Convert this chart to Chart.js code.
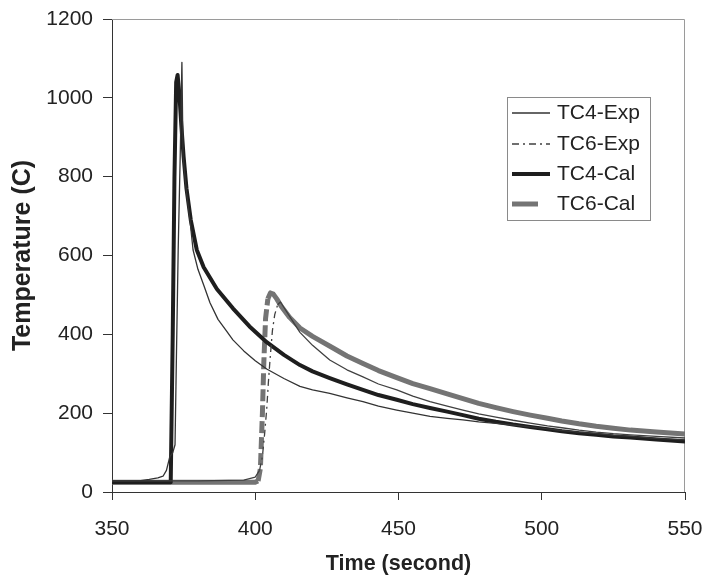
<!DOCTYPE html>
<html>
<head>
<meta charset="utf-8">
<script src="https://cdn.jsdelivr.net/npm/chart.js@4/dist/chart.umd.min.js"></script>
<style>
  html, body { margin: 0; padding: 0; background: #ffffff; }
  #wrap { width: 706px; height: 583px; position: relative; }
</style>
</head>
<body>
<div id="wrap"><canvas id="c" width="706" height="583"></canvas></div>
<script>
// ---- data ----
const seriesLabels = ['TC4-Exp', 'TC6-Exp', 'TC4-Cal', 'TC6-Cal'];

const tc4ExpTime = [350, 355, 360, 363, 366, 367.8, 369, 370.2, 371.2, 372, 372.5, 373.1, 373.8, 374.4, 374.8, 376, 377.2, 378.3, 380, 382, 384.2, 387, 390, 392.2, 396, 400, 404, 410, 415.6, 420, 426, 432, 437.6, 443, 449.4, 455, 461, 467, 472.5, 478, 484, 490, 496, 502, 507, 513, 519, 525, 531, 540, 550];
const tc4ExpTemp = [28, 28, 29, 32, 36, 40, 55, 90, 100, 120, 350, 614, 850, 1090, 850, 760, 690, 614, 565, 525, 480, 438, 408, 386, 358, 333, 312, 288, 268, 259, 250, 239, 229, 218, 208, 200, 192, 187, 183, 178, 174, 170, 165, 160, 156, 152, 148, 144, 141, 136, 132];

const tc6ExpTime = [350, 380, 396, 400, 401.5, 402.5, 403.3, 404, 404.6, 405.2, 406, 406.8, 407.8, 408.8, 410, 412.5, 415.6, 420, 426, 432, 437.6, 443, 449.4, 455, 461, 467, 472.5, 478, 484, 490, 496, 502, 507, 513, 519, 525, 531, 540, 550];
const tc6ExpTemp = [28, 28, 30, 38, 55, 90, 150, 210, 280, 340, 410, 450, 475, 482, 468, 440, 405, 372, 335, 310, 292, 274, 259, 243, 229, 218, 208, 198, 190, 182, 175, 168, 163, 157, 152, 148, 145, 141, 137];

const tc4CalTime = [350, 360, 370.5, 371.2, 371.8, 372.4, 372.9, 373.5, 374.2, 375, 376, 377.5, 379.6, 382, 386.6, 392.2, 398, 404, 410, 415.6, 420, 426, 432, 437.6, 443, 449.4, 455, 461, 467, 472.5, 478, 484, 490, 496, 502, 507, 513, 519, 525, 531, 540, 550];
const tc4CalTemp = [25, 25, 25, 400, 800, 1040, 1058, 1010, 930, 850, 770, 690, 614, 570, 515, 466, 420, 380, 348, 322, 306, 289, 273, 259, 246, 234, 223, 213, 204, 195, 186, 178, 171, 165, 159, 154, 149, 145, 141, 138, 133, 128];

const tc6CalTime = [350, 380, 400, 401, 401.8, 402.5, 403, 403.6, 404.4, 405.3, 406.3, 407.5, 409, 412, 415.6, 420, 427, 432, 437.6, 443, 449.4, 455, 461, 467, 472.5, 478, 484, 490, 496, 502, 507, 513, 519, 525, 531, 540, 550];
const tc6CalTemp = [25, 25, 25, 28, 60, 200, 330, 440, 490, 505, 502, 490, 472, 443, 416, 395, 366, 345, 326, 308, 290, 275, 262, 249, 237, 225, 214, 204, 195, 187, 180, 173, 167, 162, 157, 152, 147];

const xTicks = [350, 400, 450, 500, 550];
const yTicks = [0, 200, 400, 600, 800, 1000, 1200];

// ---- build ----
const pts = (ts, vs) => ts.map((t, i) => ({ x: t, y: vs[i] }));

// steep (long) segments show the dash pattern, short ones look solid
function steepDash(dash) {
  return ctx => {
    const dx = Math.abs(ctx.p1.x - ctx.p0.x), dy = Math.abs(ctx.p1.y - ctx.p0.y);
    return (dy > 3 * dx && dy > 8) ? dash : undefined;
  };
}

const FONT = '"Liberation Sans", Arial, Helvetica, sans-serif';
const TXT = '#222222';

const datasets = [
  { label: seriesLabels[0], data: pts(tc4ExpTime, tc4ExpTemp), borderColor: '#333333', borderWidth: 1.3, legendDash: [] },
  { label: seriesLabels[1], data: pts(tc6ExpTime, tc6ExpTemp), borderColor: '#404040', borderWidth: 1.3, legendDash: [7, 4, 2, 4],
    segment: { borderDash: steepDash([7, 4, 2, 4]) } },
  { label: seriesLabels[2], data: pts(tc4CalTime, tc4CalTemp), borderColor: '#1e1e1e', borderWidth: 4, legendDash: [] },
  { label: seriesLabels[3], data: pts(tc6CalTime, tc6CalTemp), borderColor: '#747474', borderWidth: 5, legendDash: [26, 20],
    segment: { borderDash: steepDash([12, 4]) } }
].map(d => Object.assign({ pointRadius: 0, pointHoverRadius: 0, tension: 0, fill: false, borderDash: [], borderCapStyle: 'butt', borderJoinStyle: 'round' }, d));

const framePlugin = {
  id: 'frame',
  beforeDatasetsDraw(chart) {
    const { ctx, chartArea: a } = chart;
    ctx.save();
    ctx.strokeStyle = '#9a9a9a';
    ctx.lineWidth = 1;
    ctx.beginPath();
    ctx.moveTo(a.left, a.top + 0.5);
    ctx.lineTo(a.right - 0.5, a.top + 0.5);
    ctx.lineTo(a.right - 0.5, a.bottom);
    ctx.stroke();
    ctx.restore();
  }
};

const boxLegend = {
  id: 'boxLegend',
  afterDraw(chart) {
    const ctx = chart.ctx;
    const a = chart.chartArea;
    const bx = a.right - 178, by = a.top + 78, bw = 143, bh = 123;
    ctx.save();
    ctx.fillStyle = '#ffffff';
    ctx.fillRect(bx, by, bw, bh);
    ctx.strokeStyle = '#8a8a8a';
    ctx.lineWidth = 1;
    ctx.strokeRect(bx + 0.5, by + 0.5, bw, bh);
    const rowY = [16, 47, 77, 107];
    chart.data.datasets.forEach((ds, i) => {
      const y = by + rowY[i];
      ctx.beginPath();
      ctx.setLineDash(ds.legendDash || []);
      ctx.lineWidth = ds.borderWidth;
      ctx.strokeStyle = ds.borderColor;
      ctx.lineCap = 'butt';
      ctx.moveTo(bx + 5, y);
      ctx.lineTo(bx + 43, y);
      ctx.stroke();
      ctx.setLineDash([]);
      ctx.fillStyle = TXT;
      ctx.font = '21px ' + FONT;
      ctx.textBaseline = 'middle';
      ctx.textAlign = 'left';
      ctx.fillText(ds.label, bx + 50, y);
    });
    ctx.restore();
  }
};

new Chart(document.getElementById('c'), {
  type: 'line',
  data: { datasets },
  options: {
    responsive: false,
    animation: false,
    devicePixelRatio: 1,
    layout: { padding: { left: 0, top: 19, right: 21, bottom: 0 } },
    plugins: {
      legend: { display: false },
      tooltip: { enabled: false }
    },
    scales: {
      x: {
        type: 'linear',
        min: xTicks[0], max: xTicks[xTicks.length - 1],
        afterBuildTicks: s => { s.ticks = xTicks.map(v => ({ value: v })); },
        afterFit: s => { s.height = 91; s.paddingLeft = 0; s.paddingRight = 0; },
        grid: { drawOnChartArea: false, drawTicks: true, tickLength: 8, color: '#333333' },
        border: { display: true, color: '#333333', width: 1 },
        ticks: { color: TXT, font: { family: FONT, size: 21 }, padding: 17, maxRotation: 0, callback: v => String(v) },
        title: { display: true, text: 'Time (second)', color: TXT, font: { family: FONT, size: 21.5, weight: 'bold' }, padding: { top: 0, bottom: 6 } }
      },
      y: {
        type: 'linear',
        min: yTicks[0], max: yTicks[yTicks.length - 1],
        afterBuildTicks: s => { s.ticks = yTicks.map(v => ({ value: v })); },
        afterFit: s => { s.width = 112; s.paddingTop = 0; s.paddingBottom = 0; },
        grid: { drawOnChartArea: false, drawTicks: true, tickLength: 9, color: '#333333' },
        border: { display: true, color: '#333333', width: 1 },
        ticks: { color: TXT, font: { family: FONT, size: 21 }, padding: 10, callback: v => String(v) },
        title: { display: true, text: 'Temperature (C)', color: TXT, font: { family: FONT, size: 25, weight: 'bold' }, padding: { top: 8, bottom: 0 } }
      }
    }
  },
  plugins: [framePlugin, boxLegend]
});
</script>
</body>
</html>
